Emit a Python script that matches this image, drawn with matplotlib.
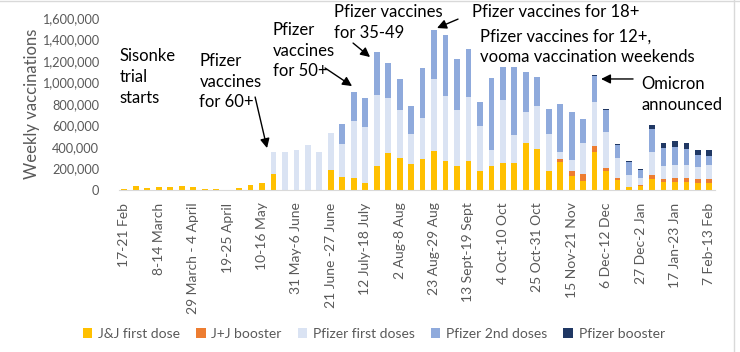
import matplotlib
matplotlib.use('Agg')
import matplotlib.pyplot as plt
import numpy as np
from matplotlib.lines import Line2D

plt.rcParams['font.family'] = ['Lato', 'DejaVu Sans']

# weekly values, thousands of doses
jj_first = [10, 37, 19, 28, 28, 37, 28, 10, 10, 0, 19, 47, 65,
            149, 0, 0, 0, 0, 186, 121, 112, 65, 223, 345, 301, 245,
            290, 366, 273, 226, 273, 180, 226, 252, 252, 437, 381, 177,
            260, 130, 84, 353, 177, 93, 28, 37, 102, 78, 78, 78, 65, 65]
jj_booster = [0] * 38 + [28, 47, 65, 56, 28, 19, 0, 10, 38, 24, 37, 37, 37, 37]
pfizer_first = [0] * 13 + [204, 353, 372, 419, 353, 344, 307, 530, 521, 661,
                           512, 443, 276, 380, 667, 601, 518, 592, 415, 146,
                           585, 260, 289, 400, 344, 65, 102, 288, 410, 335,
                           186, 112, 65, 213, 121, 118, 118, 112, 131]
pfizer_second = [0] * 19 + [186, 270, 270, 400, 329, 289, 260, 465, 455, 569,
                            475, 447, 224, 670, 307, 632, 372, 270, 232, 447,
                            447, 223, 241, 204, 121, 120, 74, 214, 168, 167,
                            148, 112, 83]
pfizer_booster = [0] * 41 + [10, 9, 9, 10, 12, 38, 46, 56, 56, 46, 56]

tick_labels = ['17-21 Feb', '8-14 March', '29 March - 4 April', '19-25 April',
               '10-16 May', '31 May-6 June', '21 June -27 June', '12 July-18 July',
               '2 Aug-8 Aug', '23 Aug-29 Aug', '13 Sept-19 Sept', '4 Oct-10 Oct',
               '25 Oct-31 Oct', '15 Nov-21 Nov', '6 Dec-12 Dec', '27 Dec-2 Jan',
               '17 Jan-23 Jan', '7 Feb-13 Feb']

series = [
    ('J&J first dose', jj_first, '#FFC000'),
    ('J+J booster', jj_booster, '#ED7D31'),
    ('Pfizer first doses', pfizer_first, '#DAE3F3'),
    ('Pfizer 2nd doses', pfizer_second, '#8FAADC'),
    ('Pfizer booster', pfizer_booster, '#203864'),
]

grey = '#595959'
fig = plt.figure(figsize=(7.4, 3.52), dpi=100)
ax = fig.add_axes([0.1603, 0.4602, 0.806, 0.4886])

x = np.arange(len(jj_first))
bottom = np.zeros(len(x))
for name, vals, col in series:
    v = np.array(vals) * 1000
    ax.bar(x, v, 0.5, bottom=bottom, color=col, label=name)
    bottom += v

ax.set_xlim(-0.5, len(x) - 0.5)
ax.set_ylim(0, 1600000)
ax.set_yticks(np.arange(0, 1600001, 200000))
ax.set_yticklabels([f'{v:,}' for v in range(0, 1600001, 200000)])
ax.set_xticks(x[::3])
ax.set_xticklabels(tick_labels, rotation=90)
ax.tick_params(axis='both', length=0, colors=grey)
ax.tick_params(axis='y', pad=14, labelsize=9.2)
ax.tick_params(axis='x', pad=9, labelsize=10)
for s in ['top', 'right', 'left']:
    ax.spines[s].set_visible(False)
ax.spines['bottom'].set_color('#D9D9D9')
ax.set_ylabel('Weekly vaccinations', color=grey, fontsize=12)
ax.yaxis.set_label_coords(-0.132, 0.5)

# annotations
fs = 12
txt = dict(fontsize=fs, va='top', linespacing=1.35)
ax.text(0.002, 0.823, 'Sisonke\ntrial\nstarts', transform=ax.transAxes, **txt)
ax.text(6.55, 1274000, 'Pfizer\nvaccines\nfor 60+', **txt)
ax.text(12.95, 1560000, 'Pfizer\nvaccines\nfor 50+', **txt)
ax.text(18.27, 1730000, 'Pfizer vaccines\nfor 35-49', clip_on=False, **txt)
ax.text(30.31, 1656000, 'Pfizer vaccines for 18+', fontsize=fs, va='center',
        clip_on=False)
ax.text(31.0, 1500000, 'Pfizer vaccines for 12+,\nvooma vaccination weekends', **txt)
ax.text(45.05, 1060000, 'Omicron\nannounced', **txt)

arr = dict(arrowstyle='-|>', color='black', lw=1, mutation_scale=14,
           shrinkA=0, shrinkB=0)
arrows = [((11.4, 865000), (12.44, 390000)),
          ((17.5, 1135000), (19.85, 967000)),
          ((19.94, 1367000), (21.42, 1237000)),
          ((29.09, 1590000), (27.26, 1507000)),
          ((44.35, 1033000), (41.56, 1033000))]
for start, end in arrows:
    ax.annotate('', xy=end, xytext=start, arrowprops=arr, annotation_clip=False)

fig.legend(loc='lower center', bbox_to_anchor=(0.505, 0.0), ncol=5, frameon=False,
           fontsize=10, labelcolor=grey, handlelength=0.7, handleheight=0.7,
           handletextpad=0.4, columnspacing=1.15)

# worksheet cell lines around the pasted chart
fig.add_artist(Line2D([0, 1], [0.997, 0.997], color='#D9D9D9', lw=1))
fig.add_artist(Line2D([0.992, 0.992], [0, 1], color='#D9D9D9', lw=1))

fig.savefig('out.png', dpi=100)
